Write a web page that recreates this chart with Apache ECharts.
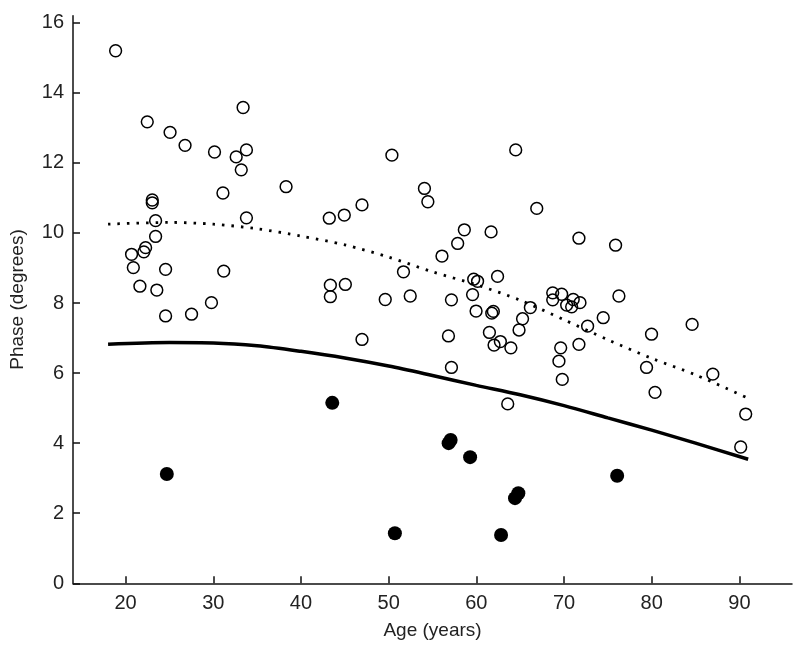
<!DOCTYPE html>
<html>
<head>
<meta charset="utf-8">
<script src="https://cdn.jsdelivr.net/npm/echarts@6/dist/echarts.min.js"></script>
<style>
html,body{margin:0;padding:0;background:#fff;}
#c{width:800px;height:659px;}
</style>
</head>
<body>
<div id="c"></div>
<script>
// Open circles (age, phase)
const openAge = [18.86,22.47,25.07,26.78,30.14,33.40,32.61,33.78,33.19,31.10,38.30,50.37,64.49,54.08,54.47,66.89,46.96,43.23,44.94,33.78,23.04,23.04,23.42,58.63,61.68,57.87,56.08,71.70,75.88,23.42,20.68,22.28,22.08,20.88,24.56,31.19,51.69,59.70,60.14,62.42,43.35,45.06,21.63,23.56,43.35,49.61,52.46,57.16,59.57,68.71,69.73,68.71,71.05,71.82,70.30,70.87,76.26,29.79,24.56,27.52,66.16,59.97,61.76,61.94,65.27,74.47,72.69,64.87,61.49,79.98,84.61,56.82,46.96,62.74,62.02,63.94,69.62,71.70,69.42,57.16,79.41,69.80,80.38,63.58,86.97,90.72,90.15];
const openPhase = [15.20,13.17,12.87,12.50,12.31,13.58,12.17,12.37,11.80,11.14,11.32,12.22,12.37,11.27,10.89,10.70,10.80,10.42,10.51,10.43,10.94,10.86,10.35,10.09,10.03,9.70,9.34,9.85,9.65,9.90,9.39,9.58,9.46,9.01,8.96,8.91,8.89,8.68,8.62,8.76,8.51,8.53,8.48,8.37,8.18,8.10,8.20,8.09,8.24,8.29,8.25,8.09,8.10,8.01,7.94,7.89,8.20,8.01,7.63,7.68,7.87,7.77,7.71,7.76,7.55,7.58,7.34,7.23,7.16,7.11,7.39,7.06,6.96,6.90,6.80,6.72,6.72,6.82,6.34,6.16,6.16,5.82,5.45,5.12,5.97,4.83,3.89];
// Filled dots
const filledAge = [24.70,43.57,50.71,56.84,57.07,59.29,64.41,64.79,62.82,76.06];
const filledPhase = [3.12,5.15,1.43,4.00,4.09,3.60,2.43,2.57,1.38,3.07];
// Fit curves
const fitAge = [18,25,30,35,40,45,50,55,60,65,70,75,80,85,91];
const solidFit = [6.82,6.87,6.86,6.78,6.62,6.43,6.20,5.93,5.65,5.38,5.07,4.72,4.37,4.00,3.54];
const dottedFit = [10.25,10.30,10.25,10.12,9.91,9.66,9.31,8.89,8.52,8.08,7.52,6.95,6.42,5.95,5.28];
// Axis ticks
const xTicks = [20,30,40,50,60,70,80,90];
const yTicks = [0,2,4,6,8,10,12,14,16];

const zip = (a,b) => a.map((v,i)=>[v,b[i]]);
const font = 'Liberation Sans, Arial, sans-serif';

const chart = echarts.init(document.getElementById('c'), null, {renderer:'canvas'});
chart.setOption({
  animation:false,
  backgroundColor:'#fff',
  grid:{left:72, right:8, top:15.7, bottom:75.7, containLabel:false},
  xAxis:{
    type:'value', min:14, max:96,
    name:'Age (years)', nameLocation:'middle', nameGap:38,
    nameTextStyle:{fontFamily:font, fontSize:19, color:'#222'},
    axisLine:{show:true, onZero:false, lineStyle:{color:'#111', width:1.5}},
    axisTick:{show:true, inside:true, length:7, customValues:xTicks, lineStyle:{color:'#111', width:1.5}},
    axisLabel:{customValues:xTicks, fontFamily:font, fontSize:20, color:'#222', margin:10},
    splitLine:{show:false}
  },
  yAxis:{
    type:'value', min:0, max:16.2,
    name:'Phase (degrees)', nameLocation:'middle', nameGap:46, nameRotate:90,
    nameTextStyle:{fontFamily:font, fontSize:19, color:'#222'},
    axisLine:{show:true, onZero:false, lineStyle:{color:'#111', width:1.5}},
    axisTick:{show:true, inside:true, length:7, customValues:yTicks, lineStyle:{color:'#111', width:1.5}},
    axisLabel:{customValues:yTicks, fontFamily:font, fontSize:20, color:'#222', margin:9},
    splitLine:{show:false}
  },
  series:[
    {type:'scatter', data:zip(openAge, openPhase), symbol:'circle', symbolSize:11.8,
     itemStyle:{color:'rgba(0,0,0,0)', borderColor:'#000', borderWidth:1.5, opacity:1}, z:3},
    {type:'scatter', data:zip(filledAge, filledPhase), symbol:'circle', symbolSize:14,
     itemStyle:{color:'#000', opacity:1}, z:3},
    {type:'line', data:zip(fitAge, solidFit), showSymbol:false, smooth:0.3,
     lineStyle:{color:'#000', width:3.5}, z:4},
    {type:'line', data:zip(fitAge, dottedFit), showSymbol:false, smooth:0.3,
     lineStyle:{color:'#000', width:2.8, type:[2.5,7]}, z:4}
  ]
});
</script>
</body>
</html>
